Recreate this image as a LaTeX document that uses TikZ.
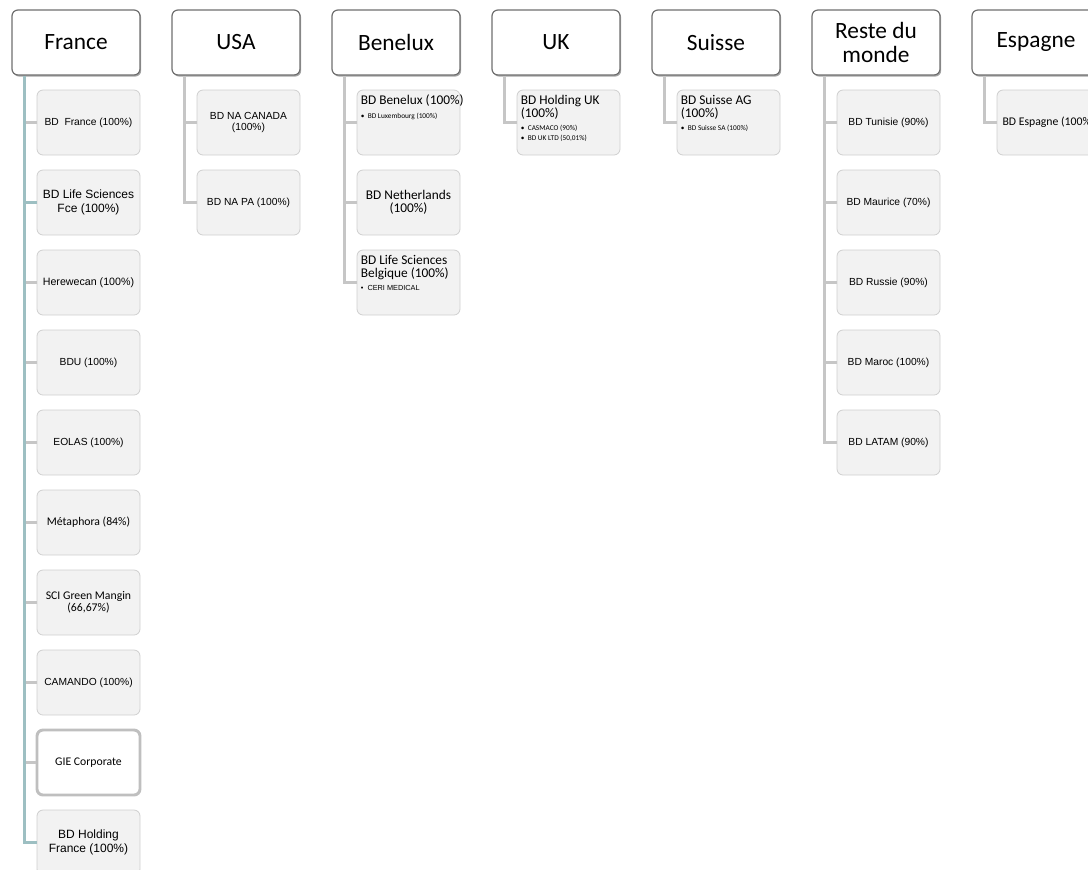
\documentclass[tikz,border=0pt]{standalone}
\usepackage{fontspec}
\setmainfont{Carlito}
\newfontfamily\arialf{Liberation Sans}
\usetikzlibrary{shadows}
\definecolor{boxfill}{HTML}{F2F2F2}
\definecolor{boxline}{HTML}{CFCFCF}
\definecolor{topline}{HTML}{6F6F6F}
\definecolor{tealconn}{HTML}{9DBFC2}
\definecolor{grayconn}{HTML}{C6C6C6}
\definecolor{gieline}{HTML}{BFBFBF}
\tikzset{
  topbox/.style={draw=topline, line width=0.9pt, fill=white, rounded corners=4.5pt,
    minimum width=96pt, minimum height=48.75pt, inner sep=0pt, align=center,
    font=\fontsize{17.5}{18}\selectfont,
    drop shadow={shadow xshift=0.9pt, shadow yshift=-1.2pt, opacity=0.35, fill=black}},
  childbox/.style={draw=boxline, line width=0.6pt, fill=boxfill, rounded corners=4.5pt,
    minimum width=77.25pt, minimum height=48.75pt, inner sep=0pt, align=center},
  giebox/.style={childbox, draw=gieline, line width=2.2pt, fill=white},
  tah/.style={font=\arialf\fontsize{7.7}{8.7}\selectfont},
  arl/.style={font=\arialf\fontsize{9}{10}\selectfont},
  cal/.style={font=\fontsize{8.8}{9.2}\selectfont},
  head/.style={anchor=north west, inner sep=0pt, align=left, font=\fontsize{10}{9.8}\selectfont},
  bul/.style={anchor=north west, inner sep=0pt, align=left, font=\fontsize{5.5}{7.2}\selectfont},
  bula/.style={anchor=north west, inner sep=0pt, align=left, font=\arialf\fontsize{5.5}{7.2}\selectfont},
  tconn/.style={draw=tealconn, line width=2.6pt},
  gconn/.style={draw=grayconn, line width=2.6pt},
}
\begin{document}
\begin{tikzpicture}[x=0.75pt, y=-0.75pt]
\useasboundingbox (0,0) rectangle (1088,869);
\clip (0,0) rectangle (1088,869);

% ---------- top boxes ----------
\node[topbox] (France) at (76,42.5) {France};
\node[topbox] (USA) at (236,42.5) {USA};
\node[topbox] (Benelux) at (396,42.5) {Benelux};
\node[topbox] (UK) at (556,42.5) {UK};
\node[topbox] (Suisse) at (716,42.5) {Suisse};
\node[topbox] (Reste) at (876,42.5) {Reste du\\monde};
\node[topbox] (Espagne) at (1036,42.5) {Espagne};

% ---------- France ----------
\node[childbox, tah] (f1) at (88.5,122.5) {BD\ \ France (100\%)};
\node[childbox, arl] (f2) at (88.5,202.5) {BD Life Sciences\\Fce (100\%)};
\node[childbox, font=\arialf\fontsize{8}{9}\selectfont] (f3) at (88.5,282.5) {Herewecan (100\%)};
\node[childbox, tah] (f4) at (88.5,362.5) {BDU (100\%)};
\node[childbox, tah] (f5) at (88.5,442.5) {EOLAS (100\%)};
\node[childbox, cal] (f6) at (88.5,522.5) {Métaphora (84\%)};
\node[childbox, cal] (f7) at (88.5,602.5) {SCI Green Mangin\\(66,67\%)};
\node[childbox, tah] (f8) at (88.5,682.5) {CAMANDO (100\%)};
\node[giebox, cal] (f9) at (88.5,762.5) {GIE Corporate};
\node[childbox, arl] (f10) at (88.5,842.5) {BD Holding\\France (100\%)};

\coordinate (frv) at ([xshift=9.75pt]France.south west);
\foreach \i in {1,3,4,5,6,7,8,9} \draw[gconn] (frv |- f\i.west) -- (f\i.west);
\draw[tconn] (frv |- f2.west) -- (f2.west);
\draw[tconn] (frv) |- (f10.west);

% ---------- USA ----------
\node[childbox, tah] (u1) at (248.5,122.5) {BD NA CANADA\\(100\%)};
\node[childbox, tah] (u2) at (248.5,202.5) {BD NA PA (100\%)};
\coordinate (usv) at ([xshift=9.75pt]USA.south west);
\draw[gconn] (usv |- u1.west) -- (u1.west);
\draw[gconn] (usv) |- (u2.west);

% ---------- Benelux ----------
\node[childbox] (b1) at (408.5,122.5) {};
\node[head] (b1h) at ([xshift=3pt,yshift=-4pt]b1.north west) {BD Benelux (100\%)};
\node[bul] (b1b) at ([yshift=-4pt]b1h.south west) {•\ \ BD Luxembourg (100\%)};
\node[childbox, font=\fontsize{10}{10}\selectfont] (b2) at (408.5,202.5) {BD Netherlands\\(100\%)};
\node[childbox] (b3) at (408.5,282.5) {};
\node[head] (b3h) at ([xshift=3pt,yshift=-4pt]b3.north west) {BD Life Sciences\\Belgique (100\%)};
\node[bula] (b3b) at ([yshift=-4pt]b3h.south west) {•\ \ CERI MEDICAL};
\coordinate (bev) at ([xshift=9.75pt]Benelux.south west);
\draw[gconn] (bev |- b1.west) -- (b1.west);
\draw[gconn] (bev |- b2.west) -- (b2.west);
\draw[gconn] (bev) |- (b3.west);

% ---------- UK ----------
\node[childbox] (k1) at (568.5,122.5) {};
\node[head] (k1h) at ([xshift=3pt,yshift=-4pt]k1.north west) {BD Holding UK\\(100\%)};
\node[bul] (k1b) at ([yshift=-4pt]k1h.south west) {•\ \ CASMACO (90\%)\\•\ \ BD UK LTD (50,01\%)};
\coordinate (ukv) at ([xshift=9.75pt]UK.south west);
\draw[gconn] (ukv) |- (k1.west);

% ---------- Suisse ----------
\node[childbox] (s1) at (728.5,122.5) {};
\node[head] (s1h) at ([xshift=3pt,yshift=-4pt]s1.north west) {BD Suisse AG\\(100\%)};
\node[bul] (s1b) at ([yshift=-4pt]s1h.south west) {•\ \ BD Suisse SA (100\%)};
\coordinate (suv) at ([xshift=9.75pt]Suisse.south west);
\draw[gconn] (suv) |- (s1.west);

% ---------- Reste du monde ----------
\node[childbox, tah] (r1) at (888.5,122.5) {BD Tunisie (90\%)};
\node[childbox, tah] (r2) at (888.5,202.5) {BD Maurice (70\%)};
\node[childbox, tah] (r3) at (888.5,282.5) {BD Russie (90\%)};
\node[childbox, tah] (r4) at (888.5,362.5) {BD Maroc (100\%)};
\node[childbox, tah] (r5) at (888.5,442.5) {BD LATAM (90\%)};
\coordinate (rev) at ([xshift=9.75pt]Reste.south west);
\foreach \i in {1,2,3,4} \draw[gconn] (rev |- r\i.west) -- (r\i.west);
\draw[gconn] (rev) |- (r5.west);

% ---------- Espagne ----------
\node[childbox, cal] (e1) at (1048.5,122.5) {BD Espagne (100\%)};
\coordinate (esv) at ([xshift=9.75pt]Espagne.south west);
\draw[gconn] (esv) |- (e1.west);
\end{tikzpicture}
\end{document}
